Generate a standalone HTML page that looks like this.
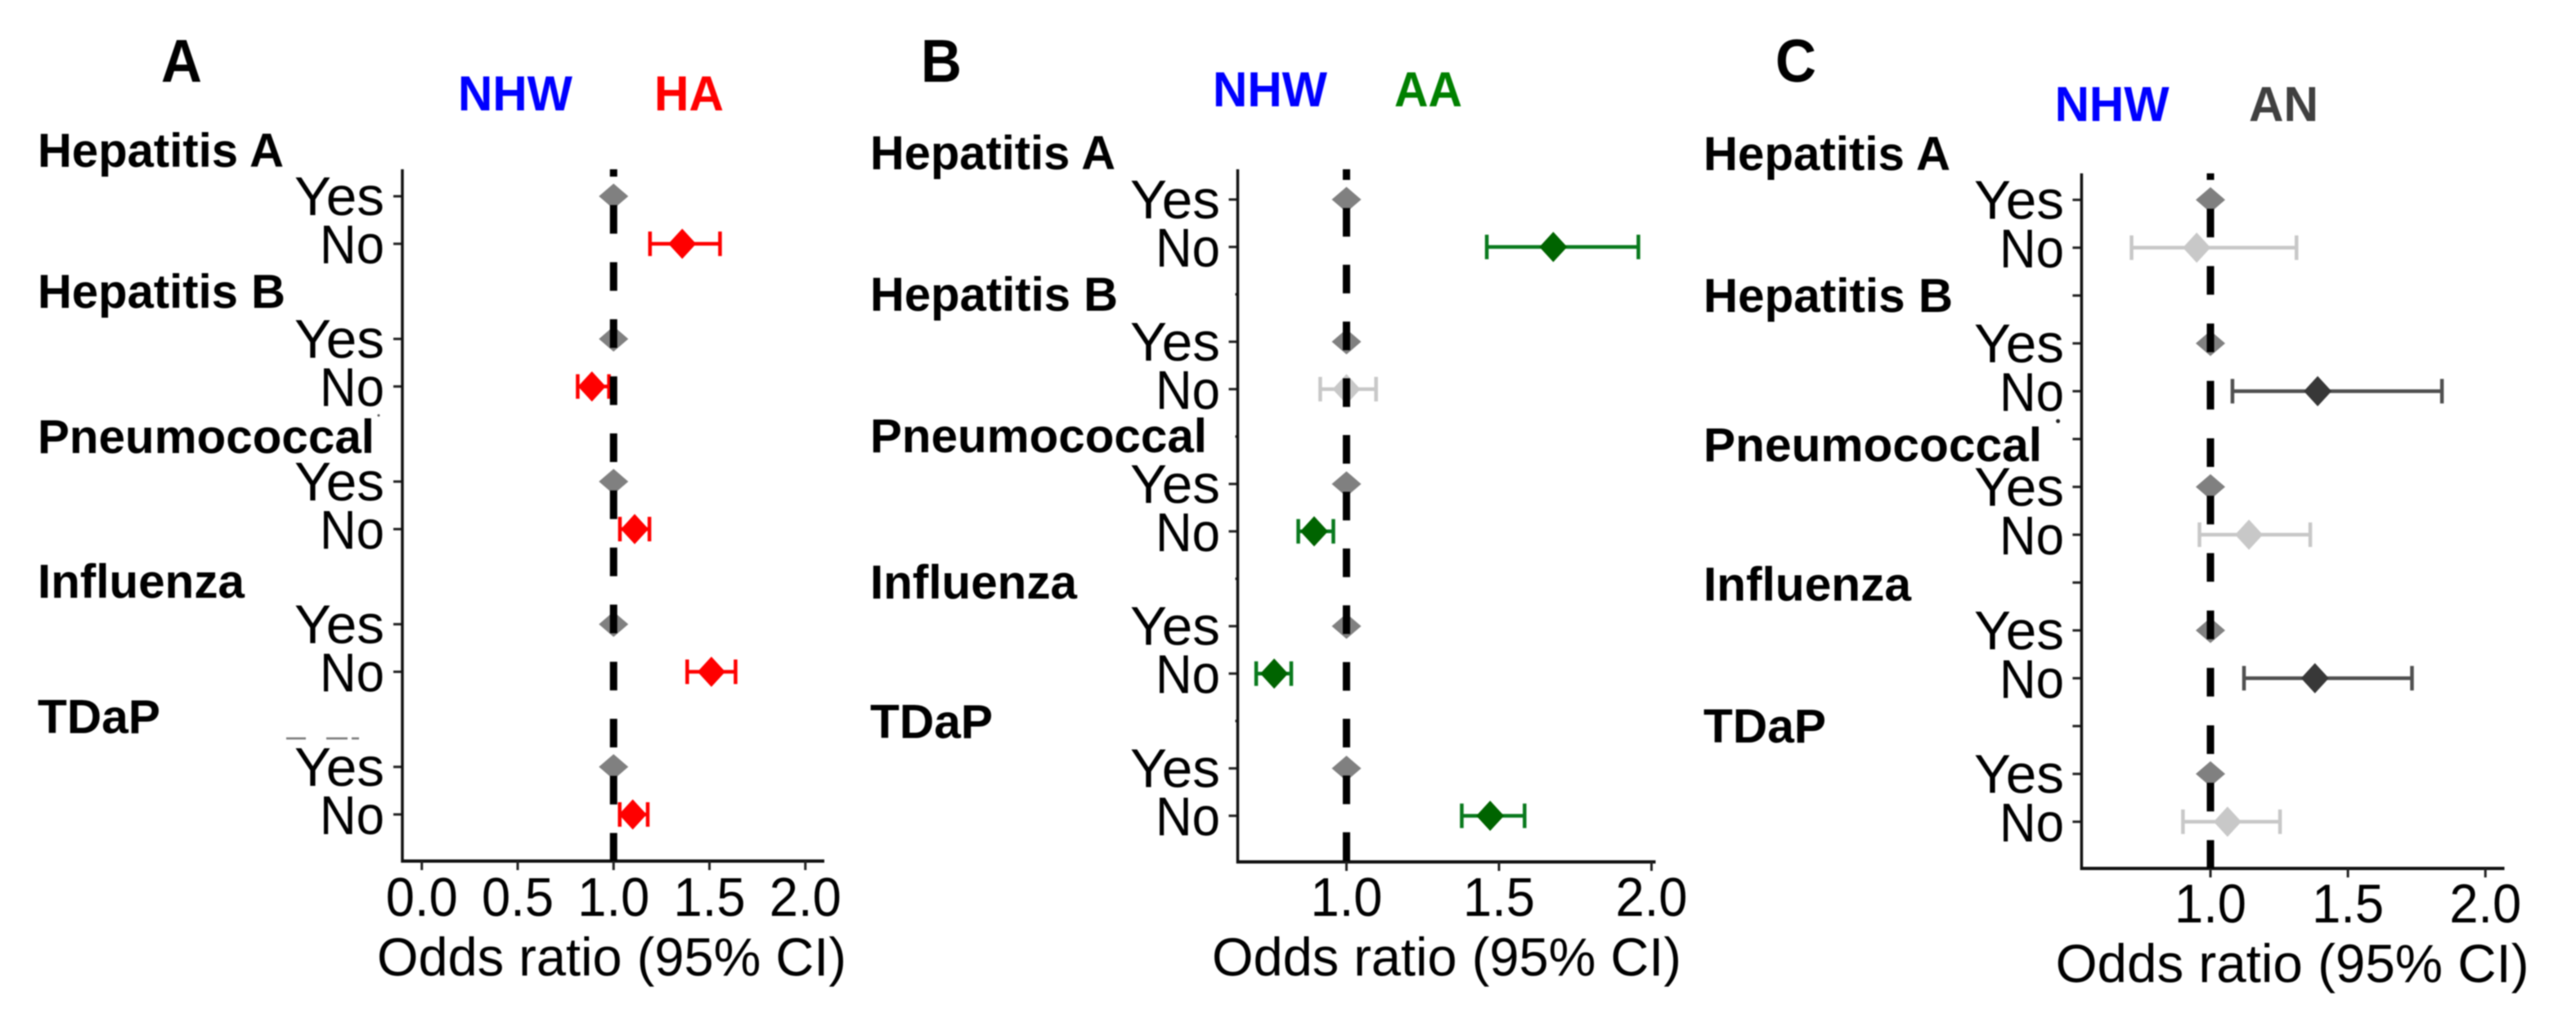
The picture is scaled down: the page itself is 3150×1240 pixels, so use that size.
<!DOCTYPE html>
<html lang="en">
<head>
<meta charset="utf-8">
<title>Odds ratios of vaccination by group</title>
<style>
  html, body { margin: 0; padding: 0; background: #fff; width: 3150px; height: 1240px; overflow: hidden; }
  svg { display: block; font-family: "Liberation Sans", Arial, sans-serif; filter: blur(0.7px); }
</style>
</head>
<body>
<svg id="chart" xmlns="http://www.w3.org/2000/svg" width="3150" height="1240" viewBox="0 0 3150 1240"></svg>
<script>
// ---- data ----
const vaccines = ["Hepatitis A", "Hepatitis B", "Pneumococcal", "Influenza", "TDaP"];
const levels = ["Yes", "No"];
const referenceOR = [1, 1, 1, 1, 1];

const panelANoOR = [1.358, 0.887, 1.11, 1.51, 1.10];
const panelANoLower = [1.19, 0.813, 1.033, 1.384, 1.032];
const panelANoUpper = [1.555, 0.976, 1.187, 1.636, 1.178];
const panelATicks = [0, 0.5, 1, 1.5, 2];

const panelBNoOR = [1.678, 1.0, 0.894, 0.763, 1.471];
const panelBNoLower = [1.46, 0.914, 0.842, 0.704, 1.378];
const panelBNoUpper = [1.957, 1.097, 0.957, 0.819, 1.584];
const panelBTicks = [1, 1.5, 2];

const panelCNoOR = [0.95, 1.39, 1.14, 1.38, 1.062];
const panelCNoLower = [0.713, 1.08, 0.96, 1.122, 0.90];
const panelCNoUpper = [1.313, 1.842, 1.363, 1.733, 1.253];
const panelCTicks = [1, 1.5, 2];

// ---- layout and style of each panel ----
const panels = [
  { id: "a", letter: "A", letterX: 197, letterW: 50, refName: "NHW", groupName: "HA", groupColor: "#ff0000",
    nameY: 135, nhwX: 560, groupX: 800, groupNameW: 85,
    mark: "#ff0000", whisker: "#ff0000",
    or: panelANoOR, lo: panelANoLower, hi: panelANoUpper, ticks: panelATicks,
    axisX: 492, axisRight: 1008, top: 207, bottom: 1053,
    x1: 750.3, unit: 234.5, row0: 240, rowStep: 58.15,
    dashOffset: 26, dashPeriod: 69.8, hiddenTick: 0,
    labelRight: 470, tickBase: 1120, xTitleX: 461, xTitleW: 574, xTitleBase: 1193,
    groupLeft: 46, groupNudge: [22, 20, 23, 26, 17], groupW: [301, 303, 412, 253, 150] },
  { id: "b", letter: "B", letterX: 1126, letterW: 50, refName: "NHW", groupName: "AA", groupColor: "#008000",
    nameY: 130, nhwX: 1483, groupX: 1705, groupNameW: 83,
    mark: "#006400", whisker: "#0a7a1e",
    or: panelBNoOR, lo: panelBNoLower, hi: panelBNoUpper, ticks: panelBTicks,
    axisX: 1513.5, axisRight: 2024.5, top: 207, bottom: 1054,
    x1: 1646.5, unit: 373, row0: 244, rowStep: 57.97,
    dashOffset: 22, dashPeriod: 69.4, hiddenTick: 3,
    labelRight: 1492, tickBase: 1120, xTitleX: 1482, xTitleW: 574, xTitleBase: 1193,
    groupLeft: 1064, groupNudge: [21, 20, 19, 24, 21], groupW: [300, 303, 412, 253, 150] },
  { id: "c", letter: "C", letterX: 2171, letterW: 50, refName: "NHW", groupName: "AN", groupColor: "#404040",
    nameY: 148, nhwX: 2512.6, groupX: 2750, groupNameW: 85,
    mark: "#383838", whisker: "#505050",
    or: panelCNoOR, lo: panelCNoLower, hi: panelCNoUpper, ticks: panelCTicks,
    axisX: 2545.4, axisRight: 3062.5, top: 212, bottom: 1062,
    x1: 2703, unit: 336.2, row0: 244.4, rowStep: 58.5,
    dashOffset: 27, dashPeriod: 70.2, hiddenTick: 11,
    labelRight: 2524, tickBase: 1128, xTitleX: 2513.6, xTitleW: 579, xTitleBase: 1201,
    groupLeft: 2083, groupNudge: [22, 20, 27, 22, 20], groupW: [302, 305, 414, 254, 150] }
];
const insignificantColor = "#c8c8c8";
const referenceColor = "#808080";

const NS = "http://www.w3.org/2000/svg";
const root = document.getElementById("chart");

function make(parent, tag, attrs, text) {
  const node = document.createElementNS(NS, tag);
  for (const key in attrs) node.setAttribute(key, attrs[key]);
  if (text !== undefined) node.textContent = text;
  parent.appendChild(node);
  return node;
}
function diamond(parent, cx, cy, w, h, fill) {
  const pts = [
    cx + "," + (cy - h / 2),
    (cx + w / 2) + "," + cy,
    cx + "," + (cy + h / 2),
    (cx - w / 2) + "," + cy
  ];
  return make(parent, "polygon", { points: pts.join(" "), fill: fill });
}

panels.forEach(function (p) {
  const xScale = function (v) { return p.x1 + (v - 1) * p.unit; };
  const yScale = function (k) { return p.row0 + k * p.rowStep; };

  const g = make(root, "g", {});
  
  

  const letter = make(g, "text", { x: p.letterX, y: 100, "font-size": 74, "font-weight": "bold", fill: "#000", textLength: p.letterW, lengthAdjust: "spacingAndGlyphs" }, p.letter);
  
  

  const nhw = make(g, "text", { x: p.nhwX, y: p.nameY, "font-size": 60, "font-weight": "bold", fill: "#0000ff", textLength: 140, lengthAdjust: "spacingAndGlyphs" }, p.refName);
  
  

  const grp = make(g, "text", { x: p.groupX, y: p.nameY, "font-size": 60, "font-weight": "bold", fill: p.groupColor, textLength: p.groupNameW, lengthAdjust: "spacingAndGlyphs" }, p.groupName);
  
  

  // marks go under the dashed reference line
  vaccines.forEach(function (name, i) {
    const kYes = i * 3;
    const kNo = i * 3 + 1;

    const title = make(g, "text", {
      x: p.groupLeft, y: yScale(kYes - 1) + p.groupNudge[i], "font-size": 58, "font-weight": "bold", fill: "#000",
      textLength: p.groupW[i], lengthAdjust: "spacingAndGlyphs"
    }, name);
    
    

    const yesLabel = make(g, "text", { x: p.labelRight, y: yScale(kYes) + 23, "font-size": 67, "text-anchor": "end", fill: "#000", textLength: 110, lengthAdjust: "spacingAndGlyphs" }, levels[0]);
    
    

    const noLabel = make(g, "text", { x: p.labelRight, y: yScale(kNo) + 24, "font-size": 67, "text-anchor": "end", fill: "#000", textLength: 79, lengthAdjust: "spacingAndGlyphs" }, levels[1]);
    
    

    const yesTick = make(g, "line", { x1: p.axisX - 11, x2: p.axisX, y1: yScale(kYes), y2: yScale(kYes), stroke: "#222", "stroke-width": 3 });
    
    

    const noTick = make(g, "line", { x1: p.axisX - 11, x2: p.axisX, y1: yScale(kNo), y2: yScale(kNo), stroke: "#222", "stroke-width": 3 });
    
    

    if (p.hiddenTick > 0 && i > 0) {
      const blankTick = make(g, "line", { x1: p.axisX - p.hiddenTick, x2: p.axisX, y1: yScale(kYes - 1), y2: yScale(kYes - 1), stroke: "#222", "stroke-width": 3 });
      
      
    }

    const yesMark = diamond(g, xScale(referenceOR[i]), yScale(kYes), 36, 31, referenceColor);
    
    

    const crossesOne = p.lo[i] <= 1 && p.hi[i] >= 1;
    const whiskerColor = crossesOne ? insignificantColor : p.whisker;
    const markColor = crossesOne ? insignificantColor : p.mark;
    const xLo = xScale(p.lo[i]);
    const xHi = xScale(p.hi[i]);
    const yNo = yScale(kNo);

    const ci = make(g, "path", {
      d: "M" + xLo + " " + yNo + "H" + xHi +
         "M" + xLo + " " + (yNo - 15) + "V" + (yNo + 15) +
         "M" + xHi + " " + (yNo - 15) + "V" + (yNo + 15),
      stroke: whiskerColor, "stroke-width": 4.5, fill: "none"
    });
    
    

    const noMark = diamond(g, xScale(p.or[i]), yNo, 34, 37, markColor);
    
    
  });

  const yAxis = make(g, "line", { x1: p.axisX, x2: p.axisX, y1: p.top, y2: p.bottom + 2, stroke: "#111", "stroke-width": 3.5 });
  
  

  const xAxis = make(g, "line", { x1: p.axisX - 1.5, x2: p.axisRight, y1: p.bottom, y2: p.bottom, stroke: "#111", "stroke-width": 4 });
  
  

  p.ticks.forEach(function (t) {
    const tick = make(g, "line", { x1: xScale(t), x2: xScale(t), y1: p.bottom, y2: p.bottom + 11, stroke: "#222", "stroke-width": 3 });
    
    

    const label = make(g, "text", { x: xScale(t), y: p.tickBase, "font-size": 67, "text-anchor": "middle", fill: "#000", textLength: 88, lengthAdjust: "spacingAndGlyphs" }, t.toFixed(1));
    
    
  });

  const xTitle = make(g, "text", {
    x: p.xTitleX, y: p.xTitleBase, "font-size": 66, fill: "#000",
    textLength: p.xTitleW, lengthAdjust: "spacingAndGlyphs"
  }, "Odds ratio (95% CI)");
  
  

  const refLine = make(g, "line", {
    x1: xScale(1), x2: xScale(1), y1: p.top, y2: p.bottom,
    stroke: "#000", "stroke-width": 9,
    "stroke-dasharray": "35 " + (p.dashPeriod - 35),
    "stroke-dashoffset": p.dashOffset
  });
  
  
});

const artifactA = make(root, "path", { d: "M350 903H374M399 903H425M430 903H439", stroke: "#777", "stroke-width": 2.5, fill: "none" });



const artifactDotA = make(root, "circle", { cx: 463, cy: 508, r: 1.5, fill: "#555" });



const artifactDotC = make(root, "circle", { cx: 2516.6, cy: 515, r: 2.5, fill: "#222" });


</script>
</body>
</html>
